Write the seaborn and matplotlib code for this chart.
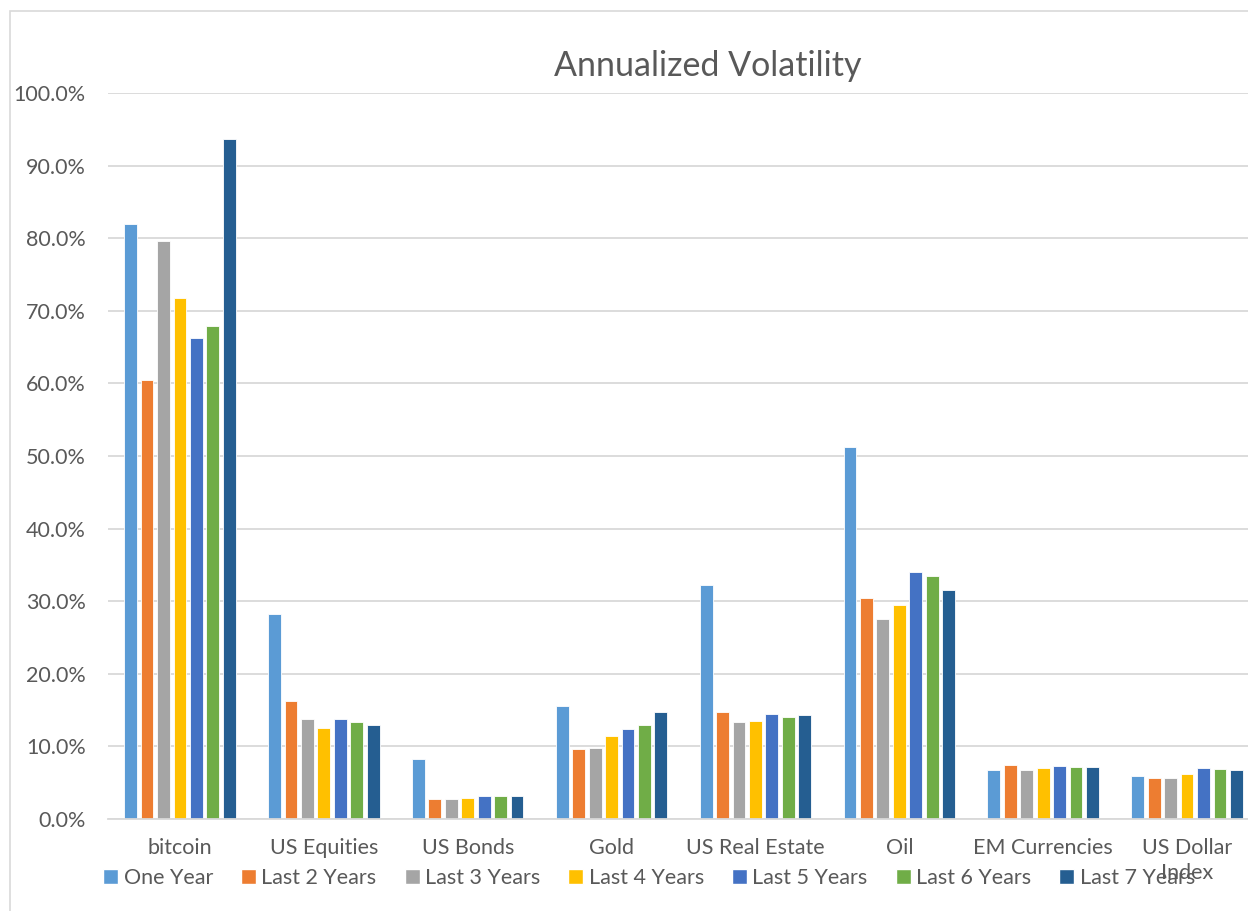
import numpy as np
import pandas as pd
import seaborn as sns
import matplotlib.pyplot as plt
from matplotlib.patches import Rectangle
from matplotlib.ticker import PercentFormatter

# values (percent)
assets = ['bitcoin', 'US Equities', 'US Bonds', 'Gold', 'US Real Estate',
          'Oil', 'EM Currencies', 'US Dollar\nIndex']
periods = ['One Year', 'Last 2 Years', 'Last 3 Years', 'Last 4 Years',
           'Last 5 Years', 'Last 6 Years', 'Last 7 Years']

one_year = [82.0, 28.3, 8.3, 15.5, 32.2, 51.2, 6.8, 5.9]
last_2 = [60.4, 16.3, 2.7, 9.6, 14.8, 30.5, 7.5, 5.7]
last_3 = [79.6, 13.8, 2.7, 9.8, 13.3, 27.6, 6.8, 5.7]
last_4 = [71.7, 12.6, 2.9, 11.4, 13.5, 29.5, 7.0, 6.2]
last_5 = [66.3, 13.8, 3.1, 12.4, 14.5, 34.0, 7.3, 7.0]
last_6 = [67.9, 13.4, 3.1, 13.0, 14.1, 33.5, 7.2, 6.9]
last_7 = [93.7, 13.0, 3.2, 14.8, 14.3, 31.5, 7.1, 6.8]

colors = ['#5B9BD5', '#ED7D31', '#A5A5A5', '#FFC000', '#4472C4', '#70AD47', '#255E91']

series = [one_year, last_2, last_3, last_4, last_5, last_6, last_7]
rows = []
for p, vals in zip(periods, series):
    for a, v in zip(assets, vals):
        rows.append({'Asset': a, 'Period': p, 'Volatility': v})
df = pd.DataFrame(rows)

sns.set_style('white')
plt.rcParams['font.family'] = ['Lato', 'DejaVu Sans']
txt = '#595959'

fig = plt.figure(figsize=(12.48, 9.11), dpi=100)
# chart area border (cropped on the right and bottom in the reference)
fig.patches.append(Rectangle((10 / 1248, -0.05), 1.2, 1 - 11 / 911 + 0.05,
                             transform=fig.transFigure, fill=False,
                             edgecolor='#d9d9d9', linewidth=1.2))

ax = fig.add_axes([108 / 1248, 1 - 819 / 911, 1151 / 1248, 726 / 911])
sns.barplot(data=df, x='Asset', y='Volatility', hue='Period', order=assets,
            hue_order=periods, palette=colors, saturation=1, width=0.8, gap=0.22,
            edgecolor='white', linewidth=0.6, ax=ax, legend=False)

ax.set_ylim(0, 100)
ax.set_yticks(np.arange(0, 101, 10))
ax.yaxis.set_major_formatter(PercentFormatter(decimals=1))
ax.grid(axis='y', color='#d9d9d9', linewidth=1.3)
ax.set_axisbelow(True)
for s in ['left', 'right', 'top']:
    ax.spines[s].set_visible(False)
ax.spines['bottom'].set_color('#d9d9d9')
ax.spines['bottom'].set_linewidth(1.3)
ax.tick_params(axis='y', length=0, pad=16, labelsize=15.5, labelcolor=txt)
ax.tick_params(axis='x', length=0, pad=14, labelsize=15.5, labelcolor=txt)
for lab in ax.get_xticklabels():
    lab.set_verticalalignment('top')
    lab.set_linespacing(1.3)
ax.set_xlabel('')
ax.set_ylabel('')

fig.text(708 / 1248, 1 - 66 / 911, 'Annualized Volatility', ha='center',
         va='center', fontsize=24.5, color=txt)

handles = [Rectangle((0, 0), 1, 1, facecolor=c) for c in colors]
fig.legend(handles, periods, loc='center', bbox_to_anchor=(649 / 1248, 1 - 878 / 911),
           ncol=7, frameon=False, fontsize=15.5, handlelength=0.7, handleheight=0.7,
           handletextpad=0.25, columnspacing=1.3, labelcolor=txt)

fig.savefig('out.png', dpi=100)
